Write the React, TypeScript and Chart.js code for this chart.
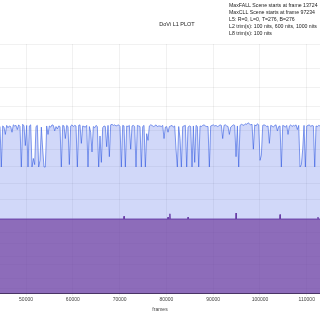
import React, { useEffect, useRef } from "react";
import { Chart, registerables } from "chart.js";

Chart.register(...registerables);

const TITLE = "DoVi L1 PLOT";
const INFO_LINES = [
  "MaxFALL Scene starts at frame 13724",
  "MaxCLL Scene starts at frame 97234",
  "L5: R=0, L=0, T=276, B=276",
  "L2 trim(s): 100 nits, 600 nits, 1000 nits",
  "L8 trim(s): 100 nits",
];
const X_LABEL = "frames";
const X_MIN = 44440;
const X_MAX = 112830;
const X_TICKS = [50000, 60000, 70000, 80000, 90000, 100000, 110000];
const NITS_GRID = [0.01, 0.1, 0.5, 1, 2.5, 5, 10, 25, 50, 100, 200, 400, 600, 1000, 2000, 4000, 10000];

// Maximum (per frame block) in nits
const MAX_START = 44440;
const MAX_STEP = 285;
const maxNits = [
  470, 100, 480, 460, 350, 490, 450, 480, 470, 380, 500, 480,
  490, 420, 500, 470, 100, 510, 480, 230, 490, 100, 480, 500,
  100, 140, 110, 470, 490, 100, 130, 460, 200, 100, 100, 480,
  350, 480, 460, 500, 490, 400, 470, 430, 480, 470, 100, 490,
  480, 300, 490, 470, 110, 480, 500, 470, 490, 480, 100, 490,
  500, 250, 480, 470, 460, 490, 100, 470, 380, 180, 470, 450,
  490, 470, 100, 330, 120, 450, 480, 470, 220, 490, 150, 500,
  510, 490, 500, 480, 490, 500, 470, 100, 490, 480, 100, 480,
  470, 490, 200, 480, 490, 470, 100, 490, 480, 470, 100, 470,
  490, 100, 360, 280, 480, 500, 490, 470, 480, 500, 470, 480,
  480, 470, 490, 300, 460, 470, 380, 470, 480, 490, 460, 480,
  200, 100, 470, 300, 100, 470, 480, 490, 100, 460, 480, 470,
  100, 480, 120, 490, 470, 100, 480, 470, 490, 500, 480, 470,
  470, 100, 480, 490, 500, 480, 490, 470, 480, 500, 490, 300,
  490, 500, 480, 470, 350, 460, 480, 500, 490, 150, 480, 100,
  490, 510, 500, 490, 520, 510, 540, 520, 500, 510, 200, 500,
  480, 520, 500, 130, 160, 490, 500, 490, 470, 480, 250, 490,
  480, 460, 490, 500, 400, 470, 480, 100, 490, 480, 460, 490,
  350, 480, 500, 470, 490, 480, 500, 420, 490, 100, 110, 200,
  490, 100, 480, 490, 500, 470, 490, 480, 100, 480, 470, 490,
  480,
];

// Average (MaxFALL-like) in nits
const avgFrames = [
  44440, 70900, 70950, 71000, 80300, 80350, 80400, 80700, 80750, 80800,
  84580, 84630, 84680, 94850, 94900, 94950, 104250, 104300, 104350,
  112350, 112400, 112450, 112830,
];
const avgNits = [
  10, 10, 11.5, 10, 10, 11, 10, 10, 13, 10,
  10, 11, 10, 10, 13.5, 10, 10, 12.5, 10,
  10, 11, 10, 10,
];

// Minimum in nits
const minFrames = [44440, 112830];
const minNits = [0, 0];

function pq(nits: number): number {
  const m1 = 2610 / 16384;
  const m2 = (2523 / 4096) * 128;
  const c1 = 3424 / 4096;
  const c2 = (2413 / 4096) * 32;
  const c3 = (2392 / 4096) * 32;
  const y = Math.pow(Math.max(nits, 0) / 10000, m1);
  return Math.pow((c1 + c2 * y) / (1 + c3 * y), m2);
}

const FONT = "'Liberation Sans', Arial, sans-serif";

const textPlugin = {
  id: "textPlugin",
  afterDraw(chart: any) {
    const ctx = chart.ctx as CanvasRenderingContext2D;
    ctx.save();
    ctx.fillStyle = "#222";
    ctx.textBaseline = "middle";
    ctx.textAlign = "center";
    ctx.font = `5.5px ${FONT}`;
    ctx.fillText(TITLE, 177, 24);
    ctx.textAlign = "left";
    ctx.font = `5.2px ${FONT}`;
    INFO_LINES.forEach((line, i) => {
      ctx.fillText(line, 229, 5.5 + i * 7.1);
    });
    ctx.restore();
  },
};

export default function App() {
  const ref = useRef<HTMLCanvasElement | null>(null);
  useEffect(() => {
    if (!ref.current) return;
    const chart = new Chart(ref.current, {
      type: "line",
      data: {
        datasets: [
          {
            label: "Minimum",
            data: minFrames.map((f, i) => ({ x: f, y: pq(minNits[i]) })),
            borderColor: "rgba(40,25,60,0.9)",
            borderWidth: 1.5,
            pointRadius: 0,
            fill: false,
          },
          {
            label: "Average",
            data: avgFrames.map((f, i) => ({ x: f, y: pq(avgNits[i]) })),
            borderColor: "rgb(105,62,168)",
            borderWidth: 1,
            backgroundColor: "rgba(112,62,160,0.7)",
            pointRadius: 0,
            fill: "origin",
          },
          {
            label: "Maximum",
            data: maxNits.map((v, i) => ({ x: MAX_START + i * MAX_STEP, y: pq(v) })),
            borderColor: "rgba(50,90,225,0.6)",
            borderWidth: 1,
            backgroundColor: "rgba(70,100,230,0.25)",
            pointRadius: 0,
            fill: "origin",
          },
        ],
      },
      options: {
        animation: false,
        responsive: false,
        layout: { padding: { top: 44, left: 0, right: 0, bottom: 7 } },
        plugins: {
          legend: { display: false },
          tooltip: { enabled: false },
          title: { display: false },
        },
        elements: { line: { tension: 0 } },
        scales: {
          x: {
            type: "linear",
            min: X_MIN,
            max: X_MAX,
            afterBuildTicks: (scale: any) => {
              scale.ticks = X_TICKS.map((v) => ({ value: v }));
            },
            grid: { color: "rgba(0,0,0,0.055)", tickLength: 2, lineWidth: 1 },
            border: { display: false },
            ticks: {
              color: "#444",
              font: { size: 5, family: FONT },
              padding: 1,
              maxRotation: 0,
              autoSkip: false,
              callback: (v: any) => String(v),
            },
            title: {
              display: true,
              text: X_LABEL,
              color: "#444",
              font: { size: 5, family: FONT },
              padding: { top: 3, bottom: 0 },
            },
          },
          y: {
            type: "linear",
            min: 0,
            max: 1,
            afterBuildTicks: (scale: any) => {
              scale.ticks = NITS_GRID.map((n) => ({ value: pq(n) }));
            },
            grid: { color: "rgba(0,0,0,0.055)", drawTicks: false },
            border: { display: false },
            ticks: { display: false },
          },
        },
      },
      plugins: [textPlugin],
    } as any);
    return () => chart.destroy();
  }, []);
  return (
    <div style={{ position: "fixed", left: 0, top: 0, width: 320, height: 320, background: "#fff" }}>
      <canvas ref={ref} width={320} height={320} style={{ display: "block" }} />
    </div>
  );
}
